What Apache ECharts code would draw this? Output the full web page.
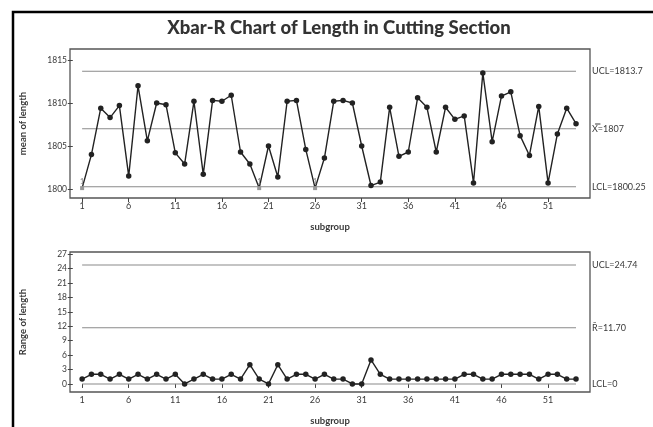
<!DOCTYPE html>
<html><head><meta charset="utf-8">
<script src="https://cdn.jsdelivr.net/npm/echarts@6/dist/echarts.min.js"></script>
<style>html,body{margin:0;padding:0;background:#fff}#c{width:653px;height:427px}</style>
</head><body><div id="c"></div>
<script>
const subgroups = Array.from({length:54},(_,i)=>i+1);
const xTicks = [1,6,11,16,21,26,31,36,41,46,51];
const meanValues = [1800.1,1804.0,1809.4,1808.3,1809.7,1801.5,1812.0,1805.6,1810.0,1809.8,
  1804.2,1802.9,1810.2,1801.7,1810.3,1810.2,1810.9,1804.3,1802.9,1800.1,
  1805.0,1801.4,1810.2,1810.3,1804.6,1800.1,1803.6,1810.2,1810.3,1810.0,
  1805.0,1800.4,1800.8,1809.5,1803.8,1804.3,1810.6,1809.5,1804.3,1809.5,
  1808.1,1808.5,1800.7,1813.5,1805.5,1810.8,1811.3,1806.2,1803.9,1809.6,
  1800.7,1806.4,1809.4,1807.6];
const rangeValues = [1,2,2,1,2,1,2,1,2,1,2,0,1,2,1,1,2,1,4,1,0,4,1,2,2,1,2,1,1,0,
  0,5,2,1,1,1,1,1,1,1,1,2,2,1,1,2,2,2,2,1,2,2,1,1];
const flaggedMean = [1,20,26];
const meanTicks = [1800,1805,1810,1815];
const rangeTicks = [0,3,6,9,12,15,18,21,24,27];
const meanLimits = {UCL:1813.7, CL:1807, LCL:1800.25};
const rangeLimits = {UCL:24.74, CL:11.70, LCL:0};
const meanLabels = {UCL:'UCL=1813.7', CL:'X\u033F=1807', LCL:'LCL=1800.25'};
const rangeLabels = {UCL:'UCL=24.74', CL:'R\u0304=11.70', LCL:'LCL=0'};

const FONT = 'Lato, "Open Sans", sans-serif';
const TXT = '#3a3a3a';
const chart = echarts.init(document.getElementById('c'), null, {renderer:'canvas'});

function xAxis(gi){
  return {type:'value', gridIndex:gi, min:-0.3, max:55.5,
    name:'subgroup', nameLocation:'middle', nameGap:24,
    nameTextStyle:{fontFamily:FONT, fontWeight:'bold', fontSize:9.5, color:TXT},
    axisLine:{show:false}, splitLine:{show:false},
    axisTick:{show:true, length:4, customValues:xTicks, lineStyle:{color:'#444'}},
    axisLabel:{show:true, customValues:xTicks, fontFamily:FONT, fontSize:9, color:TXT, margin:4, formatter:v=>String(v)}};
}
function yAxis(gi,min,max,ticks,name){
  return {type:'value', gridIndex:gi, min:min, max:max,
    name:name, nameLocation:'middle', nameGap:42,
    nameTextStyle:{fontFamily:FONT, fontWeight:'bold', fontSize:9.5, color:TXT},
    axisLine:{show:false}, splitLine:{show:false},
    axisTick:{show:true, length:5, customValues:ticks, lineStyle:{color:'#444'}},
    axisLabel:{show:true, customValues:ticks, fontFamily:FONT, fontSize:8.5, color:TXT, margin:3, formatter:v=>String(v)}};
}
function limitSeries(gi, val, label){
  return {type:'line', xAxisIndex:gi, yAxisIndex:gi, data:[[1,val],[54,val]],
    symbol:'none', silent:true, lineStyle:{color:'#8a8a8a', width:1.1},
    endLabel:{show:true, formatter:label, distance:16, fontFamily:FONT, fontSize:9, color:TXT}};
}
const meanData = subgroups.map((s,i)=>{
  const d = {value:[s, meanValues[i]]};
  if (flaggedMean.includes(s)) {
    d.symbol = 'rect'; d.symbolSize = 4;
    d.itemStyle = {color:'#999'};
    d.label = {show:true, formatter:'1', position:'top', distance:1, fontSize:7, color:'#777', fontFamily:FONT};
  }
  return d;
});
const option = {
  animation:false,
  grid:[
    {left:70, top:49, width:520, height:149, show:true, borderColor:'#555', borderWidth:1.3, backgroundColor:'transparent'},
    {left:70, top:252, width:520, height:146, show:true, borderColor:'#555', borderWidth:1.3, backgroundColor:'transparent'}
  ],
  xAxis:[xAxis(0), xAxis(1)],
  yAxis:[yAxis(0,1798.95,1816.28,meanTicks,'mean of length'), yAxis(1,-1.68,27.46,rangeTicks,'Range of length')],
  graphic:[
    {type:'rect', shape:{x:13, y:12, width:700, height:500}, style:{fill:'none', stroke:'#000', lineWidth:2.5}},
    {type:'text', x:339, y:28, style:{text:'Xbar-R Chart of Length in Cutting Section', fontFamily:FONT, fontWeight:900, fontSize:18.5, fill:'#333', align:'center', verticalAlign:'middle'}}
  ],
  series:[
    limitSeries(0, meanLimits.UCL, meanLabels.UCL),
    limitSeries(0, meanLimits.CL, meanLabels.CL),
    limitSeries(0, meanLimits.LCL, meanLabels.LCL),
    limitSeries(1, rangeLimits.UCL, rangeLabels.UCL),
    limitSeries(1, rangeLimits.CL, rangeLabels.CL),
    limitSeries(1, rangeLimits.LCL, rangeLabels.LCL),
    {type:'line', xAxisIndex:0, yAxisIndex:0, data:meanData, symbol:'circle', symbolSize:5.5,
      lineStyle:{color:'#222', width:1.4}, itemStyle:{color:'#222'}},
    {type:'line', xAxisIndex:1, yAxisIndex:1, data:subgroups.map((s,i)=>[s,rangeValues[i]]), symbol:'circle', symbolSize:5.5,
      lineStyle:{color:'#222', width:1.4}, itemStyle:{color:'#222'}}
  ]
};
chart.setOption(option);
</script></body></html>
